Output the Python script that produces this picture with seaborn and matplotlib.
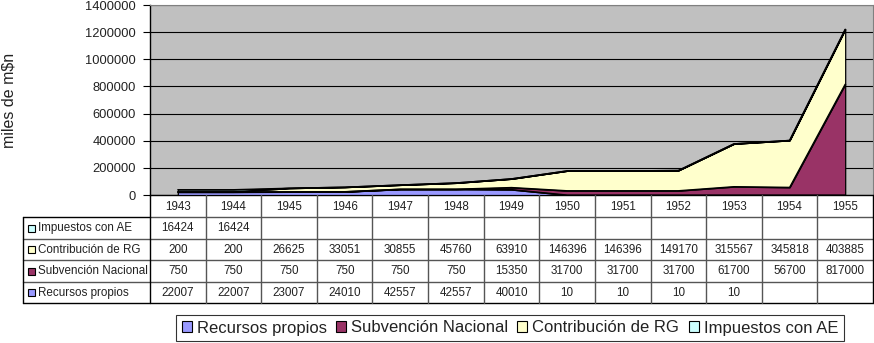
import numpy as np
import pandas as pd
import matplotlib
matplotlib.use("Agg")
import matplotlib.pyplot as plt
from matplotlib.patches import Patch, Rectangle
import seaborn as sns

years = ["1943", "1944", "1945", "1946", "1947", "1948", "1949",
         "1950", "1951", "1952", "1953", "1954", "1955"]
recursos_propios = [22007, 22007, 23007, 24010, 42557, 42557, 40010,
                    10, 10, 10, 10, None, None]
subvencion_nacional = [750, 750, 750, 750, 750, 750, 15350,
                       31700, 31700, 31700, 61700, 56700, 817000]
contribucion_rg = [200, 200, 26625, 33051, 30855, 45760, 63910,
                   146396, 146396, 149170, 315567, 345818, 403885]
impuestos_ae = [16424, 16424, None, None, None, None, None,
                None, None, None, None, None, None]

series_names = ["Recursos propios", "Subvención Nacional",
                "Contribución de RG", "Impuestos con AE"]
series_vals = [recursos_propios, subvencion_nacional, contribucion_rg, impuestos_ae]
colors = ["#9999FF", "#993366", "#FFFFCC", "#CCFFFF"]
y_ticks = [0, 200000, 400000, 600000, 800000, 1000000, 1200000, 1400000]
y_label = "miles de m$n"

sns.set_theme(style="white")
plt.rcParams["font.family"] = ["Liberation Sans", "DejaVu Sans"]

W, H = 874, 343
fig = plt.figure(figsize=(W / 100, H / 100), dpi=100)

# plot area in pixel geometry
L, R, T, B = 150, 873, 5, 195
ax = fig.add_axes([L / W, 1 - B / H, (R - L) / W, (B - T) / H])

x = np.arange(len(years))
df = pd.DataFrame({n: pd.to_numeric(pd.Series(v), errors="coerce").fillna(0)
                   for n, v in zip(series_names, series_vals)})
ax.set_facecolor("#C0C0C0")
ax.stackplot(x, *[df[n].values for n in series_names], colors=colors,
             edgecolor="black", linewidth=0.9, zorder=3)
cum = df[series_names].cumsum(axis=1)
for n in series_names:
    sns.lineplot(x=x, y=cum[n].values, ax=ax, color="black", linewidth=0.9, zorder=4)

ax.set_xlim(-0.5, len(years) - 0.5)
ax.set_ylim(0, 1400000)
ax.set_yticks(y_ticks)
ax.set_yticklabels([str(t) for t in y_ticks], fontsize=9.3, color="#222222")
ax.set_xticks([])
ax.tick_params(axis="y", which="major", direction="out", length=5, width=0.8,
               color="black", pad=5, left=True)
ax.yaxis.grid(True, color="black", linewidth=0.8, zorder=1)
ax.set_axisbelow(True)
for s in ["top", "right"]:
    ax.spines[s].set_color("#808080")
    ax.spines[s].set_linewidth(0.8)
ax.spines["left"].set_color("black")
ax.spines["bottom"].set_color("black")
ax.spines["left"].set_linewidth(1.0)
ax.spines["bottom"].set_linewidth(1.0)
ax.set_xlabel("")
ax.set_ylabel("")

fig.text(9 / W, 1 - 100 / H, y_label, rotation=90, ha="center", va="center",
         fontsize=11.5, color="#222222")

# data table
tax = fig.add_axes([0, 0, 1, 1])
tax.set_xlim(0, W)
tax.set_ylim(H, 0)
tax.axis("off")
ncol = len(years)
cw = (R - L) / ncol
col_x = [L + i * cw for i in range(ncol + 1)]
hdr_top, hdr_bot = B, 217
row_edges = [217, 238.5, 260, 281.5, 303]
lab_left = 23
lc = "#555555"
tax.plot([L, R], [hdr_bot, hdr_bot], color=lc, lw=1)
for yy in row_edges[1:-1]:
    tax.plot([lab_left, R], [yy, yy], color=lc, lw=1)
tax.plot([lab_left, L], [row_edges[0], row_edges[0]], color="black", lw=1)
tax.plot([lab_left, R], [row_edges[-1], row_edges[-1]], color="black", lw=1)
for cx in col_x[1:-1]:
    tax.plot([cx, cx], [hdr_top, row_edges[-1]], color=lc, lw=1)
tax.plot([L, L], [hdr_top, row_edges[-1]], color="black", lw=1)
tax.plot([R, R], [hdr_top, row_edges[-1]], color="black", lw=1)
tax.plot([lab_left, lab_left], [row_edges[0], row_edges[-1]], color="black", lw=1)

fs_tab = 8.4
for i, yr in enumerate(years):
    tax.text(col_x[i] + cw / 2, (hdr_top + hdr_bot) / 2 + 0.5, yr, ha="center",
             va="center", fontsize=fs_tab, color="#222222")
table_order = [3, 2, 1, 0]  # top row first
for r, si in enumerate(table_order):
    yc = (row_edges[r] + row_edges[r + 1]) / 2 + 0.5
    tax.add_patch(Rectangle((28, yc - 3.5), 7, 7, facecolor=colors[si],
                            edgecolor="black", lw=0.8))
    tax.text(38, yc, series_names[si], ha="left", va="center", fontsize=fs_tab,
             color="#222222")
    for i, v in enumerate(series_vals[si]):
        if v is None:
            continue
        tax.text(col_x[i] + cw / 2, yc, str(v), ha="center", va="center",
                 fontsize=fs_tab, color="#222222")

# legend
handles = [Patch(facecolor=c, edgecolor="black", linewidth=0.8, label=n)
           for n, c in zip(series_names, colors)]
leg = fig.legend(handles=handles, loc="center", ncol=4,
                 bbox_to_anchor=(510 / W, 1 - 328 / H), fontsize=12,
                 frameon=True, fancybox=False, edgecolor="black",
                 handlelength=0.6, handleheight=0.6, handletextpad=0.3,
                 columnspacing=0.55, borderpad=0.35, borderaxespad=0)
leg.get_frame().set_linewidth(0.8)
for t in leg.get_texts():
    t.set_color("#222222")

fig.savefig("out.png", dpi=100, facecolor="white")
